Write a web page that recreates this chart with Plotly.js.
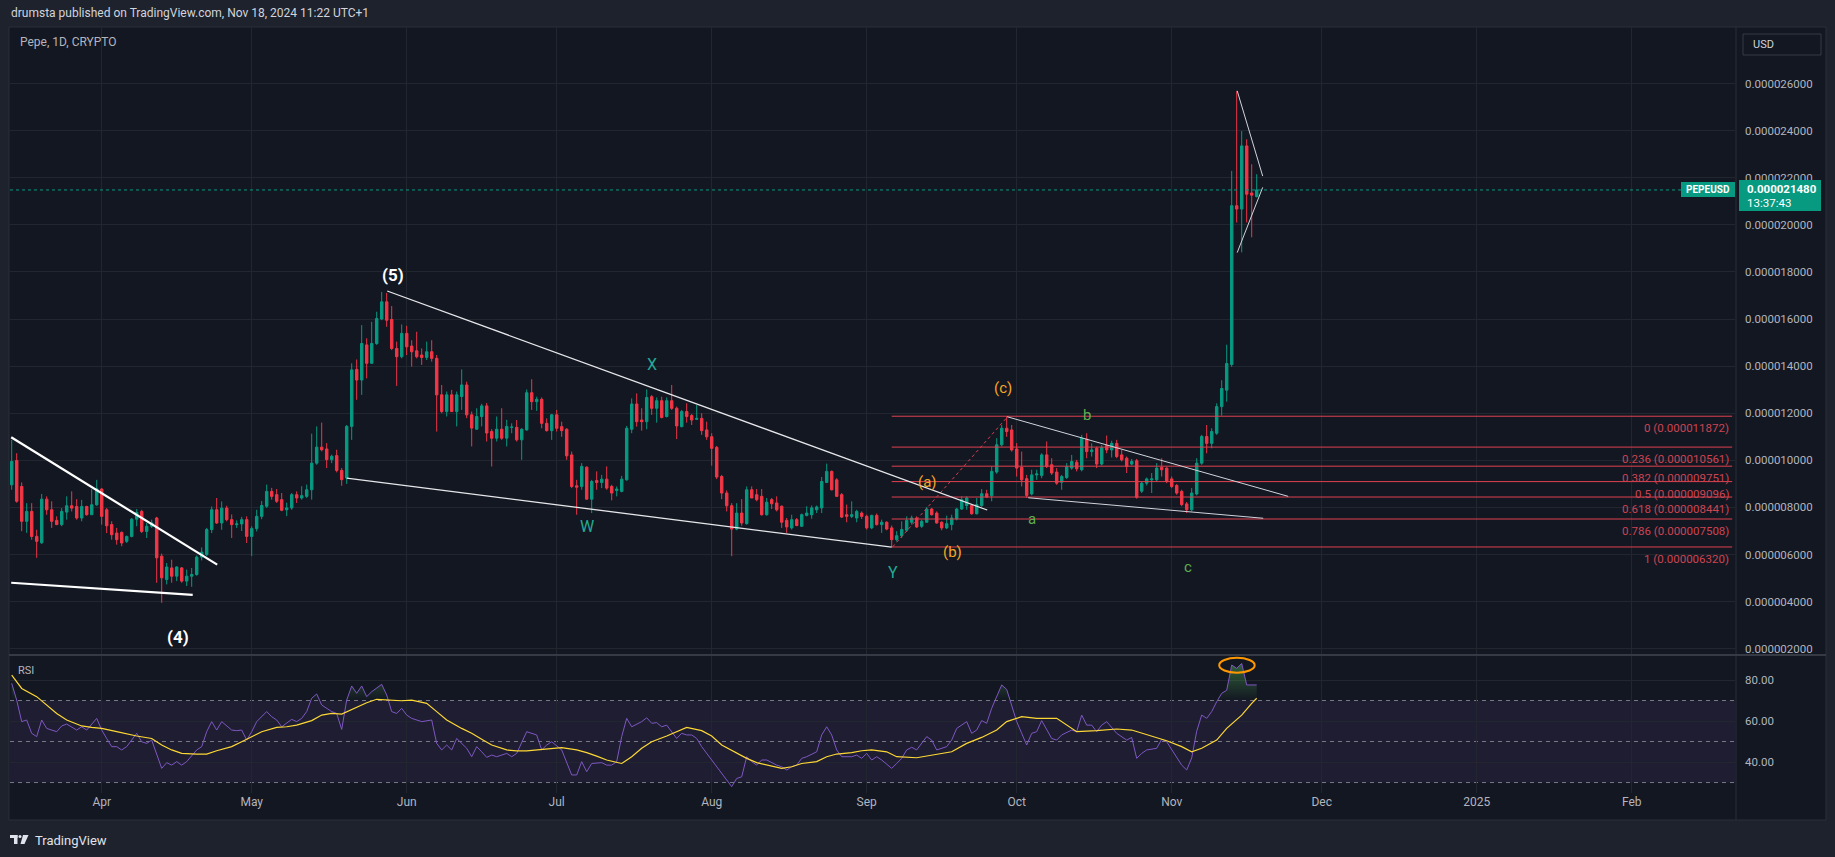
<!DOCTYPE html>
<html><head><meta charset="utf-8">
<script src="https://cdn.plot.ly/plotly-3.0.1.min.js"></script>
<style>html,body{margin:0;padding:0;background:#1e222d;}#chart{width:1835px;height:857px;}</style>
</head><body><div id="chart"></div>
<script>
// ---------- DATA (prices in units of 1e-6 USD) ----------
const firstCandleDay = -18; // days from 2024-04-01 (=> 2024-03-14)
const priceScale = 1e-6;
const open = [8.96,9.99,8.89,7.41,7.83,6.77,6.50,8.35,7.90,7.45,
7.27,7.80,8.07,8.04,7.55,8.04,7.69,8.11,8.78,7.90,
7.27,6.91,6.94,6.56,6.77,7.50,7.83,6.98,7.20,7.55,
5.93,4.94,5.43,5.08,5.43,4.87,5.08,5.15,5.89,6.00,
7.06,7.90,7.34,7.97,7.48,7.27,7.30,7.48,6.77,7.10,
7.62,8.05,8.68,8.54,8.33,7.90,7.98,8.54,8.40,8.47,
8.75,9.88,10.56,10.48,10.03,10.20,9.57,9.25,11.44,13.86,
13.41,14.90,14.12,14.96,16.00,16.73,15.98,14.75,14.40,15.39,
14.85,14.65,14.47,14.37,14.61,14.33,12.78,12.07,12.78,12.07,
12.71,13.20,11.93,11.32,11.86,12.31,11.22,10.94,11.32,10.94,
11.40,11.40,10.87,11.29,12.87,12.49,12.59,11.57,11.26,11.93,
11.43,11.32,10.23,8.92,8.89,9.71,8.35,9.14,9.06,9.20,
8.89,8.72,8.68,9.17,11.32,12.39,11.71,11.64,12.70,12.21,
12.53,11.86,12.53,12.21,11.43,12.07,11.90,11.74,11.78,11.29,
11.00,10.55,9.31,8.61,8.07,7.08,7.76,7.31,8.75,8.54,
8.47,7.69,8.33,8.19,8.05,7.45,7.13,7.48,7.20,7.66,
7.69,7.90,7.98,9.06,9.53,9.17,8.54,7.69,7.62,7.55,
7.76,7.62,7.13,7.66,7.27,7.37,7.13,6.63,6.80,7.03,
7.37,7.55,7.20,7.37,7.93,7.76,7.37,7.13,7.27,7.51,
7.93,8.08,8.08,7.73,8.08,8.58,8.50,9.50,10.66,11.36,
11.29,10.48,9.70,9.22,8.57,9.38,9.36,10.23,9.81,9.50,
9.07,9.27,9.67,9.92,9.60,10.90,10.37,10.51,9.84,10.63,
10.44,10.72,10.23,10.09,9.84,9.98,8.69,9.03,9.17,9.17,
9.70,9.67,9.21,8.93,8.68,8.15,7.90,8.57,9.88,11.01,
10.72,11.15,12.28,12.98,14.07,20.81,20.67,23.35,21.35,21.20];
const high = [10.87,10.30,9.06,8.18,8.18,7.05,8.57,8.47,8.26,7.62,
7.97,8.47,8.68,8.35,8.32,8.07,8.78,9.17,8.82,7.97,
7.41,7.13,6.98,6.80,7.55,7.93,7.90,7.34,7.48,7.60,
6.04,5.64,5.78,5.50,5.47,5.36,5.43,5.96,6.30,7.13,
8.04,8.40,8.25,8.07,7.70,7.45,7.60,7.62,7.20,7.90,
8.27,8.97,8.83,8.78,8.61,8.20,8.61,8.68,8.90,8.97,
11.13,11.44,11.60,10.73,10.24,10.45,9.67,11.50,14.12,14.28,
15.74,15.18,15.88,16.31,17.15,17.11,16.55,15.04,15.77,15.71,
15.10,15.46,14.75,15.04,15.10,14.47,13.20,12.92,12.99,12.92,
13.86,13.34,12.07,12.21,12.40,12.43,11.32,11.86,12.21,11.72,
11.57,11.71,11.36,13.01,13.44,12.70,12.67,11.78,11.97,12.14,
11.64,11.36,10.37,9.17,9.88,9.74,9.17,9.53,9.38,9.74,
8.96,8.89,9.34,11.46,12.63,12.84,12.21,13.01,12.77,12.67,
12.70,12.67,13.20,12.28,12.14,12.42,11.97,12.35,12.00,11.64,
11.15,10.61,9.38,8.72,8.18,8.18,8.35,8.89,8.89,8.78,
8.78,8.40,8.40,8.47,8.08,7.55,7.69,7.55,7.74,8.05,
8.08,8.08,9.29,9.86,9.57,9.24,8.61,8.12,8.26,7.90,
7.83,7.69,7.69,7.74,7.48,7.41,7.23,6.99,7.41,7.62,
7.65,7.62,7.48,8.02,7.98,7.83,7.41,7.65,7.69,7.98,
8.47,8.47,8.12,8.40,8.78,8.75,9.74,10.94,11.50,11.87,
11.50,10.73,10.37,9.38,9.60,9.60,10.30,10.80,10.09,9.67,
9.38,9.88,10.23,10.02,11.08,11.15,10.72,10.58,10.65,11.05,
10.83,10.87,10.44,10.16,10.06,10.06,9.10,9.27,9.46,9.88,
10.09,9.70,9.31,8.99,8.75,8.23,8.82,10.09,11.08,11.50,
11.36,12.42,13.40,14.91,22.29,25.68,23.98,23.63,22.57,22.15];
const low = [8.75,8.20,6.99,6.92,6.63,5.86,6.45,7.69,7.13,7.25,
7.20,7.48,7.83,7.48,7.41,7.65,7.69,8.07,7.27,6.91,
6.63,6.42,6.35,6.49,6.73,7.20,6.91,6.70,7.13,4.80,
3.95,4.73,4.80,4.87,4.80,4.66,4.63,5.10,5.75,5.93,
6.91,7.30,7.05,7.41,6.70,7.13,7.00,6.49,5.93,6.98,
7.50,7.98,8.33,8.19,7.84,7.63,7.90,8.19,8.33,8.40,
8.33,9.81,10.38,9.67,9.88,9.49,8.92,9.00,10.87,12.57,
12.78,13.48,14.10,14.90,15.95,15.67,14.68,13.16,14.33,14.47,
13.98,14.33,14.05,14.26,14.19,11.22,12.00,11.86,12.07,11.44,
12.14,11.79,10.59,11.30,11.44,10.80,9.74,10.80,10.87,10.59,
11.15,10.80,10.02,11.26,12.14,12.10,11.36,11.22,10.87,11.22,
11.00,10.02,8.82,7.69,8.75,8.33,7.76,8.75,8.82,8.75,
8.30,8.47,8.64,9.14,11.15,11.43,11.26,11.32,11.93,11.60,
11.78,11.82,12.14,10.90,11.40,11.60,11.50,11.71,11.08,10.87,
9.77,9.20,8.35,7.83,5.93,7.03,7.22,7.27,8.44,8.26,
7.65,7.65,7.93,7.83,7.13,6.92,7.06,7.20,7.17,7.62,
7.52,7.76,7.76,9.03,8.72,8.44,7.55,7.37,7.55,7.37,
7.51,7.06,7.08,7.23,6.92,7.03,6.32,6.56,6.70,6.96,
7.27,7.13,7.13,7.34,7.65,7.31,7.03,7.08,7.03,7.45,
7.90,7.90,7.69,7.70,8.02,8.40,8.26,9.43,10.59,11.00,
10.37,9.31,8.89,8.40,8.51,9.17,9.24,9.67,9.38,8.96,
8.75,9.21,9.60,9.53,9.53,10.09,10.16,9.67,9.78,10.30,
10.12,10.09,9.95,9.46,9.78,8.37,8.61,8.93,8.61,9.10,
9.31,9.03,8.82,8.54,8.05,7.76,7.83,8.51,9.81,10.30,
10.51,11.08,11.90,12.49,13.97,20.10,18.83,20.10,19.47,21.16];
const close = [9.95,8.26,7.41,7.83,6.77,6.56,8.35,7.90,7.41,7.27,
7.83,8.07,7.97,7.55,8.04,7.69,8.11,8.79,7.62,7.22,
6.84,6.63,6.49,6.77,7.50,7.79,6.98,7.20,7.34,5.86,
5.01,5.47,5.08,5.47,4.87,5.08,5.15,5.89,6.10,7.06,
7.90,7.34,7.97,7.48,7.27,7.30,7.48,6.77,7.10,7.62,
8.08,8.68,8.47,8.26,7.88,7.98,8.54,8.40,8.50,8.75,
9.88,10.56,10.45,10.03,10.17,9.57,9.18,11.44,13.84,13.41,
14.96,14.12,14.96,16.02,16.73,15.95,14.75,14.40,15.39,14.82,
14.61,14.40,14.37,14.61,14.33,12.78,12.07,12.78,12.07,12.78,
13.20,11.93,11.37,11.86,12.31,11.16,10.94,11.32,10.94,11.44,
11.41,10.87,11.32,12.87,12.49,12.59,11.57,11.26,11.93,11.36,
11.26,10.19,8.89,8.86,9.74,8.35,9.10,9.06,9.20,8.82,
8.61,8.78,9.20,11.36,12.39,11.64,11.64,12.67,12.21,12.53,
11.82,12.53,12.21,11.46,12.07,11.86,11.71,11.78,11.26,11.00,
10.51,9.29,8.61,8.07,7.08,7.76,7.34,8.75,8.40,8.33,
7.69,8.22,8.16,7.90,7.37,7.17,7.48,7.23,7.69,7.76,
7.98,8.02,9.10,9.53,8.75,8.47,7.59,7.62,7.69,7.83,
7.62,7.13,7.66,7.27,7.37,7.08,6.63,6.80,7.06,7.45,
7.55,7.17,7.41,7.93,7.69,7.34,7.13,7.31,7.55,7.93,
8.33,8.40,7.73,8.12,8.58,8.44,9.53,10.66,11.36,11.22,
10.44,9.67,9.17,8.51,9.38,9.42,10.23,9.74,9.46,9.03,
9.31,9.73,9.95,9.64,10.94,10.37,10.44,9.84,10.54,10.44,
10.72,10.16,10.02,9.74,9.95,8.43,9.03,9.21,9.21,9.67,
9.60,9.10,8.89,8.61,8.12,7.90,8.61,9.88,11.01,10.72,
11.22,12.28,13.05,14.11,20.81,20.67,23.35,21.30,21.26,21.48];

// RSI (14) readings: day offsets from 2024-04-01 and values
const rsiDays = [-18,-17,-16,-15,-14,-13,-12,
-11,-9,-8,-7,-5,-4,-3,-1,
0,1,2,3,4,5,
7,8,9,10,11,12,13,14,15,16,17,
19,20,21,22,23,24,
26,27,28,29,30,31,
33,34,35,36,
38,39,40,41,42,43,44,
46,47,48,49,50,51,52,53,54,55,56,57,58,59,60,61,62,
64,
66,67,68,69,70,71,
73,74,75,76,77,78,79,
81,82,83,84,85,
87,88,89,90,
92,93,94,95,96,97,98,
100,101,102,103,104,105,106,
108,109,110,111,112,113,
115,116,117,118,119,120,121,
123,124,125,126,127,128,129,130,131,132,133,
135,136,137,138,139,140,141,
143,144,145,146,147,148,
150,151,152,153,154,155,156,
158,159,160,161,162,163,
165,166,167,
169,170,171,
173,174,175,176,177,178,179,180,181,182,183,184,185,186,187,188,189,190,191,192,
194,195,196,197,198,199,200,201,
203,204,205,206,207,208,209,
211,212,213,214,215,216,217,218,219,220,221,222,223,224,225,226,227,228,229,230,231];
const rsiVals = [78.4,70.2,59.7,60.5,54,52.4,60.5,
56.4,54.8,57.6,58.5,55.6,57.2,55.6,61.3,
55.6,51.5,47.5,47.5,45.9,47.5,
54,49.9,49.1,50.7,44.2,36.9,39.7,38.5,40.2,38.5,40.2,
45.9,47.5,54.8,59.7,55.6,59.7,
55.6,55.3,55.6,50.7,54.8,59.7,
64.6,62.1,60.5,57.2,
60.8,59.7,61.3,64.6,71.1,73.2,67.8,
64.6,63.7,55.9,70.2,77.1,73.5,77.1,71.9,74.3,75.9,77.9,72.7,64.6,63.7,66.2,62.9,61.3,
59.7,
60.5,49.1,45.9,48.3,45.9,51.5,
46.7,42.6,47.5,45,42.3,43.4,42.6,
44.2,42.6,44.2,49.1,54.8,
53.2,45.9,48.3,49.9,
45.9,39.3,33.7,33.7,40.2,35.3,39.3,
39.7,38.5,38.5,40.2,52.4,61.3,57.2,
59.7,61.6,58.9,59.2,57.2,58,
51.5,54,53.2,53.2,51.5,47.5,44.2,
37.7,34.5,31.2,28,32,32.8,42.6,40.2,38.5,41,41,
38.5,37.7,36.1,37.7,38.5,41.8,42.6,
45,53.2,57.2,53.2,45.9,42.6,
42.6,43.4,41.8,44.2,41,42.6,41,
36.9,39.3,41.8,45.9,47.2,45.9,
52.4,50.7,45.9,
47.5,50.7,56.4,
59.7,54,55.6,60.2,58.9,66.2,71.9,77.6,75.4,67,59.7,54,48.3,54,54.8,60.2,55.6,51.5,50.7,53.2,
55.6,54.8,62.9,58,58,54.8,58,59.7,
54,52.4,50.7,52,41.8,44.2,45.9,
46.7,51.1,49.9,45.9,42.6,38.5,36.1,42,55,62.9,61.3,64.6,69.4,73.5,75,87.3,85.7,88.1,77.6,77.6,77.6];

// RSI-based moving average readings
const maDays = [-18,-16,-13,-11,-9,-7,-4,-2,0,3,5,7,10,12,14,16,19,21,23,26,28,30,32,35,37,39,42,44,46,48,
51,53,55,58,60,62,65,67,69,72,74,76,78,81,83,85,88,90,92,95,97,99,101,104,106,108,110,113,115,117,
120,122,124,127,129,131,134,136,138,140,143,145,147,150,152,154,157,159,163,167,170,173,176,179,181,184,187,191,193,195,
199,203,206,210,213,216,218,220,223,225,228,230,231];
const maVals = [82.4,75.9,71.9,67.8,63.7,60.5,57.6,56.9,56.4,54.8,53.7,52.7,51.5,48.3,45.9,44.2,43.9,43.9,45.5,47.5,49.9,52.4,54.8,56.9,57.2,58,60.2,62.9,63.7,63.4,
66.7,68.9,70.6,70.2,69.9,70.2,68.6,64.6,60.5,56.4,54,51.1,48.3,45.9,45.4,45.4,46.2,46.7,47,45.9,44.6,42.9,41,39.3,42.6,46.7,49.9,52.7,54.8,56.9,
55.3,52.7,48.3,44.2,41.8,39.7,38,36.9,37.7,39.3,40.2,42.6,43.9,44.6,45.5,45.9,45,42.6,42.1,43.9,45,49.1,52,55.6,59.7,62.1,61.3,61.3,58,54.8,
55.3,56.1,55.6,52.7,50.4,47.5,45,46.7,50.7,56.4,62.9,68.6,71.1];

const priceTicks = [2,4,6,8,10,12,14,16,18,20,22,24,26];
const rsiTicks = [40,60,80];
const rsiBands = [30,50,70];
const monthTickDates = ['2024-04-01','2024-05-01','2024-06-01','2024-07-01','2024-08-01','2024-09-01','2024-10-01','2024-11-01','2024-12-01','2025-01-01','2025-02-01'];
const monthTickLabels = ['Apr','May','Jun','Jul','Aug','Sep','Oct','Nov','Dec','2025','Feb'];
const fibRatios = ['0','0.236','0.382','0.5','0.618','0.786','1'];
const fibPrices = [11.872,10.561,9.751,9.096,8.441,7.508,6.320];
const lastPrice = 21.48;

// ---------- helpers ----------
const W = 1835, H = 857;
const px = x => x / W;
const py = y => 1 - y / H;
const D0 = Date.UTC(2024, 3, 1);
const day = d => new Date(D0 + d * 86400000).toISOString().slice(0, 19).replace('T', ' ');
const P = v => v * priceScale;

const candleDates = open.map((_, i) => day(firstCandleDay + i));
const rsiDates = rsiDays.map(day);
const maDates = maDays.map(day);

const traces = [
  {type: 'candlestick', x: candleDates, open: open.map(P), high: high.map(P), low: low.map(P), close: close.map(P),
   xaxis: 'x', yaxis: 'y', hoverinfo: 'skip', whiskerwidth: 0,
   increasing: {line: {color: '#089981', width: 1}, fillcolor: '#089981'},
   decreasing: {line: {color: '#f23645', width: 1}, fillcolor: '#f23645'}},
  {type: 'scatter', mode: 'lines', x: rsiDates, y: rsiDates.map(() => 70), xaxis: 'x', yaxis: 'y2',
   line: {width: 0, color: 'rgba(0,0,0,0)'}, hoverinfo: 'skip'},
  {type: 'scatter', mode: 'lines', x: rsiDates, y: rsiVals.map(v => Math.max(v, 70)), xaxis: 'x', yaxis: 'y2',
   line: {width: 0, color: 'rgba(0,0,0,0)'}, fill: 'tonexty', fillcolor: 'rgba(76,175,80,0.35)',
   fillgradient: {type: 'vertical', start: 70, stop: 92, colorscale: [[0, 'rgba(76,175,80,0)'], [1, 'rgba(76,175,80,0.6)']]},
   hoverinfo: 'skip'},
  {type: 'scatter', mode: 'lines', x: rsiDates, y: rsiVals, xaxis: 'x', yaxis: 'y2',
   line: {width: 1, color: '#7e57c2'}, hoverinfo: 'skip'},
  {type: 'scatter', mode: 'lines', x: maDates, y: maVals, xaxis: 'x', yaxis: 'y2',
   line: {width: 1.2, color: '#fdd835'}, hoverinfo: 'skip'}
];

const gridC = '#22262f';
const shapes = [];
// chart frame
shapes.push({type: 'rect', xref: 'paper', yref: 'paper', x0: px(9), x1: px(1826), y0: py(820), y1: py(27),
  fillcolor: '#131722', line: {color: '#2a2e39', width: 1}, layer: 'below'});
// RSI band
shapes.push({type: 'rect', xref: 'paper', yref: 'y2', x0: px(10), x1: px(1735), y0: 30, y1: 70,
  fillcolor: 'rgba(126,87,194,0.1)', line: {width: 0}, layer: 'below'});
rsiBands.forEach(v => shapes.push({type: 'line', xref: 'paper', yref: 'y2', x0: px(10), x1: px(1735), y0: v, y1: v,
  line: {color: '#787b86', width: 1, dash: '4px,4px'}, layer: 'below'}));
// separators
shapes.push({type: 'line', xref: 'paper', yref: 'paper', x0: px(1736), x1: px(1736), y0: py(27), y1: py(820), line: {color: '#2a2e39', width: 1}});
shapes.push({type: 'line', xref: 'paper', yref: 'paper', x0: px(9), x1: px(1826), y0: py(655), y1: py(655), line: {color: '#363a45', width: 2}});
// last price dotted line
shapes.push({type: 'line', xref: 'paper', yref: 'y', x0: px(10), x1: px(1735), y0: P(lastPrice), y1: P(lastPrice),
  line: {color: '#089981', width: 1, dash: 'dot'}});
// fib levels
fibPrices.forEach(v => shapes.push({type: 'line', xref: 'x', yref: 'y', x0: day(158), x1: day(326.1), y0: P(v), y1: P(v),
  line: {color: '#e0404f', width: 1}}));
shapes.push({type: 'line', xref: 'x', yref: 'y', x0: day(158.2), x1: day(181.3), y0: P(6.33), y1: P(11.88),
  line: {color: '#e0404f', width: 1, dash: '3px,3px'}});
// trend lines (drawings)
const wl = (d0, p0, d1, p1, w, c) => shapes.push({type: 'line', xref: 'x', yref: 'y', x0: day(d0), x1: day(d1), y0: P(p0), y1: P(p1),
  line: {color: c || '#ffffff', width: w}});
wl(-18.1, 10.98, 23.1, 5.57, 2.2);
wl(-18.1, 4.80, 18.2, 4.29, 2.2);
wl(57.1, 17.19, 177.1, 7.89, 1.3, '#e6e7ea');
wl(49.0, 9.24, 158.0, 6.31, 1.3, '#e6e7ea');
wl(181.1, 11.85, 237.3, 8.47, 1, '#d1d4dc');
wl(185.3, 8.41, 232.3, 7.54, 1, '#d1d4dc');
wl(227.1, 25.69, 232.2, 22.07, 1, '#d1d4dc');
wl(227.1, 18.82, 232.2, 21.59, 1, '#d1d4dc');
// orange ellipse on RSI
shapes.push({type: 'circle', xref: 'x', yref: 'y2', x0: day(223.5), x1: day(230.6), y0: 83.6, y1: 90.8,
  line: {color: '#ff9800', width: 2}});
// right-axis boxes
shapes.push({type: 'rect', xref: 'paper', yref: 'paper', x0: px(1743), x1: px(1821), y0: py(55), y1: py(34),
  fillcolor: '#131722', line: {color: '#363a45', width: 1}});
shapes.push({type: 'rect', xref: 'paper', yref: 'paper', x0: px(1739), x1: px(1821), y0: py(211), y1: py(180),
  fillcolor: '#089981', line: {width: 0}});
shapes.push({type: 'rect', xref: 'paper', yref: 'paper', x0: px(1681), x1: px(1735), y0: py(197), y1: py(182),
  fillcolor: '#089981', line: {width: 0}});
// TradingView logo glyph
shapes.push({type: 'rect', xref: 'paper', yref: 'paper', x0: px(10), x1: px(17.5), y0: py(838), y1: py(835), fillcolor: '#e0e3eb', line: {width: 0}});
shapes.push({type: 'rect', xref: 'paper', yref: 'paper', x0: px(14), x1: px(17.5), y0: py(844), y1: py(835), fillcolor: '#e0e3eb', line: {width: 0}});
shapes.push({type: 'circle', xref: 'paper', yref: 'paper', x0: px(18.5), x1: px(21.5), y0: py(838), y1: py(835), fillcolor: '#e0e3eb', line: {width: 0}});
shapes.push({type: 'path', xref: 'paper', yref: 'paper', path: `M ${px(23)} ${py(835)} L ${px(28.5)} ${py(835)} L ${px(24.5)} ${py(844)} L ${px(20.5)} ${py(844)} Z`, fillcolor: '#e0e3eb', line: {width: 0}});

const annotations = [];
const txt = (x, y, t, o) => annotations.push(Object.assign({x, y, text: t, showarrow: false, xref: 'paper', yref: 'paper'}, o));
txt(px(9), py(13), 'drumsta published on TradingView.com, Nov 18, 2024 11:22 UTC+1', {xanchor: 'left', yanchor: 'middle', font: {size: 12, color: '#d1d4dc'}});
txt(px(18), py(42), 'Pepe, 1D, CRYPTO', {xanchor: 'left', yanchor: 'middle', font: {size: 12, color: '#b2b5be'}});
txt(px(16), py(670), 'RSI', {xanchor: 'left', yanchor: 'middle', font: {size: 11, color: '#b2b5be'}});
txt(px(33), py(840), 'TradingView', {xanchor: 'left', yanchor: 'middle', font: {size: 13, color: '#e0e3eb'}});
txt(px(1751), py(44.5), 'USD', {xanchor: 'left', yanchor: 'middle', font: {size: 11, color: '#d1d4dc'}});
txt(px(1745), py(188.5), '<b>' + P(lastPrice).toFixed(9) + '</b>', {xanchor: 'left', yanchor: 'middle', font: {size: 11.5, color: '#ffffff'}});
txt(px(1745), py(203), '13:37:43', {xanchor: 'left', yanchor: 'middle', font: {size: 11.5, color: '#ffffff'}});
txt(px(1708), py(189.5), '<b>PEPEUSD</b>', {xanchor: 'center', yanchor: 'middle', font: {size: 10, color: '#ffffff'}});
// fib labels
fibPrices.forEach((v, i) => annotations.push({xref: 'paper', yref: 'y', x: px(1731), y: P(v), yshift: -12,
  text: fibRatios[i] + ' (' + P(v).toFixed(9) + ')', showarrow: false, xanchor: 'right', yanchor: 'middle',
  font: {size: 11.5, color: '#cc4452'}}));
// wave labels
const wave = (d, p, t, c, s, b) => annotations.push({xref: 'x', yref: 'y', x: day(d), y: P(p), text: b ? '<b>' + t + '</b>' : t,
  showarrow: false, xanchor: 'center', yanchor: 'middle', font: {size: s, color: c}});
wave(58.3, 17.87, '(5)', '#ffffff', 17, true);
wave(15.2, 2.48, '(4)', '#ffffff', 17, true);
wave(110.0, 14.09, 'X', '#22ab94', 16);
wave(97.1, 7.18, 'W', '#22ab94', 16);
wave(158.3, 5.24, 'Y', '#22ab94', 16);
wave(165.1, 9.09, '(a)', '#f5a623', 15);
wave(170.1, 6.12, '(b)', '#f5a623', 15);
wave(180.3, 13.05, '(c)', '#f5a623', 15);
wave(197.1, 11.92, 'b', '#5fae4f', 15);
wave(186.1, 7.52, 'a', '#5fae4f', 15);
wave(217.2, 5.49, 'c', '#5fae4f', 15);

const layout = {
  width: W, height: H, margin: {l: 0, r: 0, t: 0, b: 0},
  paper_bgcolor: '#1e222d', plot_bgcolor: 'rgba(0,0,0,0)',
  showlegend: false, hovermode: false, dragmode: false,
  font: {family: 'Roboto, "Noto Sans", sans-serif', color: '#b2b5be'},
  xaxis: {type: 'date', domain: [px(10), px(1735)], range: [day(-18.34), day(326.66)], anchor: 'y2',
    tickvals: monthTickDates, ticktext: monthTickLabels, tickfont: {size: 12, color: '#b2b5be'},
    showgrid: true, gridcolor: gridC, gridwidth: 1, zeroline: false, showline: false, ticks: '',
    rangeslider: {visible: false}, fixedrange: true},
  yaxis: {domain: [py(655), py(27)], range: [P(1.733), P(28.4)], side: 'right', anchor: 'x',
    tickvals: priceTicks.map(P), tickformat: '.9f', tickfont: {size: 11.5, color: '#b2b5be'},
    showgrid: true, gridcolor: gridC, zeroline: false, showline: false, ticks: '', ticklabelstandoff: 9, fixedrange: true},
  yaxis2: {domain: [py(793), py(655)], range: [24.9, 92.2], side: 'right', anchor: 'x',
    tickvals: rsiTicks, tickformat: '.2f', tickfont: {size: 11.5, color: '#b2b5be'},
    showgrid: true, gridcolor: gridC, zeroline: false, showline: false, ticks: '', ticklabelstandoff: 9, fixedrange: true},
  shapes, annotations
};

Plotly.newPlot('chart', traces, layout, {displayModeBar: false, staticPlot: true});
</script>
</body></html>
